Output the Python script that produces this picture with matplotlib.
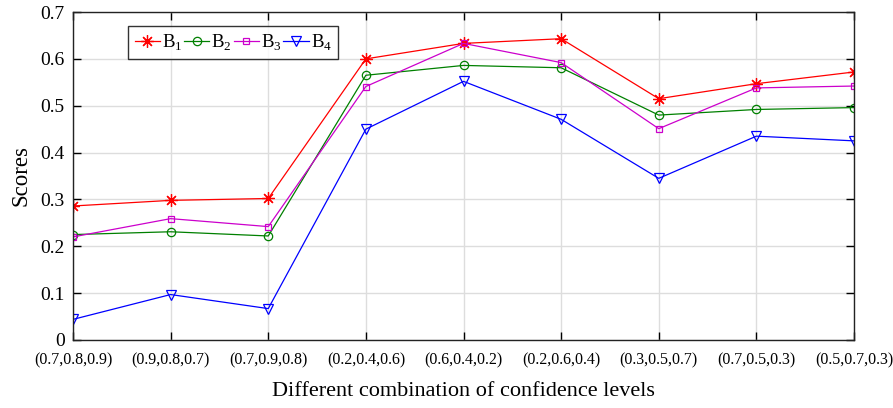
import matplotlib
matplotlib.use("Agg")
import matplotlib.pyplot as plt

plt.rcParams['font.family'] = ['Liberation Serif', 'DejaVu Serif']
plt.rcParams['mathtext.fontset'] = 'custom'
plt.rcParams['mathtext.rm'] = 'Liberation Serif'

categories = ["(0.7,0.8,0.9)", "(0.9,0.8,0.7)", "(0.7,0.9,0.8)", "(0.2,0.4,0.6)",
              "(0.6,0.4,0.2)", "(0.2,0.6,0.4)", "(0.3,0.5,0.7)", "(0.7,0.5,0.3)",
              "(0.5,0.7,0.3)"]
B1 = [0.286, 0.298, 0.302, 0.600, 0.633, 0.643, 0.515, 0.547, 0.572]
B2 = [0.225, 0.231, 0.222, 0.565, 0.586, 0.581, 0.480, 0.492, 0.496]
B3 = [0.220, 0.259, 0.242, 0.541, 0.633, 0.592, 0.451, 0.538, 0.542]
B4 = [0.044, 0.097, 0.067, 0.450, 0.552, 0.471, 0.345, 0.435, 0.425]
labels = ["B$_1$", "B$_2$", "B$_3$", "B$_4$"]
yticks = [0, 0.1, 0.2, 0.3, 0.4, 0.5, 0.6, 0.7]

fig = plt.figure(figsize=(8.93, 4.08), dpi=100)
ax = fig.add_axes([73 / 893, 68 / 408, 781 / 893, 328 / 408])

x = list(range(len(categories)))
styles = [("red", (8, 2, 0), "full", 9), ("green", "o", "none", 6),
          ("#cc00cc", "s", "none", 5), ("blue", "v", "none", 7)]
for y, lab, (c, m, fs, ms) in zip([B1, B2, B3, B4], labels, styles):
    ax.plot(x, y, color=c, marker=m, markersize=ms, fillstyle=fs,
            markeredgewidth=0.9, linewidth=0.9, label=lab)

ax.set_xlim(0, len(categories) - 1)
ax.set_ylim(0, 0.7)
ax.set_xticks(x)
ax.set_xticklabels(categories, fontsize=11.5)
ax.set_yticks(yticks)
ax.set_yticklabels([f"{v:g}" for v in yticks], fontsize=14)
ax.grid(True, color="#dddddd", linewidth=1.0)
ax.set_axisbelow(True)
ax.tick_params(direction="in", top=True, right=True, length=6, width=1.0)
ax.tick_params(axis="x", pad=9)
ax.tick_params(axis="y", pad=6)
for s in ax.spines.values():
    s.set_linewidth(1.0)
    s.set_color("#222222")
ax.set_xlabel("Different combination of confidence levels", fontsize=16, labelpad=10)
ax.set_ylabel("Scores", fontsize=16.5, labelpad=6)

leg = ax.legend(loc="upper left", bbox_to_anchor=(55 / 781, 1 - 14 / 328), ncol=4,
                fontsize=13.5, frameon=True, fancybox=False, edgecolor="black",
                handlelength=1.35, handletextpad=0.1, columnspacing=0.1,
                borderpad=0.35, borderaxespad=0.0)
leg.get_frame().set_linewidth(1.0)

fig.savefig("out.png", dpi=100)
